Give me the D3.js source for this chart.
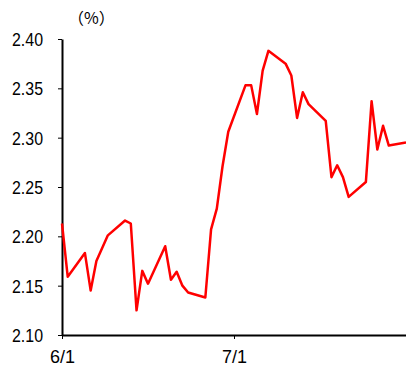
<!DOCTYPE html>
<html><head><meta charset="utf-8">
<script src="https://cdn.jsdelivr.net/npm/d3@7"></script>
<style>html,body{margin:0;padding:0;background:#fff;}svg{display:block;}</style>
</head><body>
<svg id="c" width="406" height="367"></svg>
<script>
const dates = ["2017-06-01","2017-06-02","2017-06-05","2017-06-06","2017-06-07","2017-06-09","2017-06-12","2017-06-13","2017-06-14","2017-06-15","2017-06-16","2017-06-19","2017-06-20","2017-06-21","2017-06-22","2017-06-23","2017-06-26","2017-06-27","2017-06-28","2017-06-29","2017-06-30","2017-07-03","2017-07-04","2017-07-05","2017-07-06","2017-07-07","2017-07-10","2017-07-11","2017-07-12","2017-07-13","2017-07-14","2017-07-17","2017-07-18","2017-07-19","2017-07-20","2017-07-21","2017-07-24","2017-07-25","2017-07-26","2017-07-27","2017-07-28","2017-07-31"];
const values = [2.213,2.159,2.183,2.145,2.175,2.201,2.216,2.213,2.125,2.165,2.152,2.190,2.156,2.164,2.150,2.143,2.138,2.207,2.228,2.271,2.306,2.353,2.353,2.324,2.368,2.388,2.375,2.363,2.320,2.346,2.334,2.317,2.260,2.272,2.260,2.240,2.255,2.337,2.288,2.312,2.292,2.295];
const yTicks = [2.10,2.15,2.20,2.25,2.30,2.35,2.40];
const xTickDates = ["2017-06-01","2017-07-01"];
const xTickLabels = ["6/1","7/1"];
const unitLabel = "（%）";

const parse = d3.timeParse("%Y-%m-%d");
const data = dates.map((d,i)=>({date:parse(d), v:values[i]}));
const svg = d3.select("#c");
const L=62, R=406, T=39, B=335;
const font = "'Liberation Sans', Arial, sans-serif";

const x = d3.scaleTime().domain([parse("2017-06-01"), parse("2017-07-31")]).range([L, R]);
const y = d3.scaleLinear().domain([2.10, 2.40]).range([B, T]);

const yAxis = svg.append("g").attr("transform",`translate(${L},0)`)
  .call(d3.axisLeft(y).tickValues(yTicks).tickFormat(d3.format(".2f")).tickSize(4).tickSizeOuter(0));
yAxis.select(".domain").attr("stroke","#000").attr("stroke-width",2);
yAxis.selectAll(".tick line").attr("stroke","#000").attr("stroke-width",1);
yAxis.selectAll(".tick text").attr("font-family",font).attr("font-size",18).attr("fill","#000")
  .attr("x",-19).attr("dy","0.36em").attr("textLength",31).attr("lengthAdjust","spacingAndGlyphs");

const xAxis = svg.append("g").attr("transform",`translate(0,${B})`)
  .call(d3.axisBottom(x).tickValues(xTickDates.map(parse)).tickFormat((d,i)=>xTickLabels[i]).tickSize(4).tickSizeOuter(0));
xAxis.select(".domain").attr("stroke","#000").attr("stroke-width",2);
xAxis.selectAll(".tick line").attr("stroke","#000").attr("stroke-width",1);
xAxis.selectAll(".tick text").attr("font-family",font).attr("font-size",18).attr("fill","#000")
  .attr("y",28).attr("dy",0).attr("textLength",25).attr("lengthAdjust","spacingAndGlyphs");

svg.append("path").datum(data)
  .attr("fill","none").attr("stroke","#ff0000").attr("stroke-width",2.5).attr("stroke-linejoin","round")
  .attr("d", d3.line().x(d=>x(d.date)).y(d=>y(d.v)));

svg.append("text").attr("x",68).attr("y",24).attr("font-family","'Noto Sans CJK JP', sans-serif").attr("font-size",16).attr("fill","#000").text(unitLabel);
</script>
</body></html>
